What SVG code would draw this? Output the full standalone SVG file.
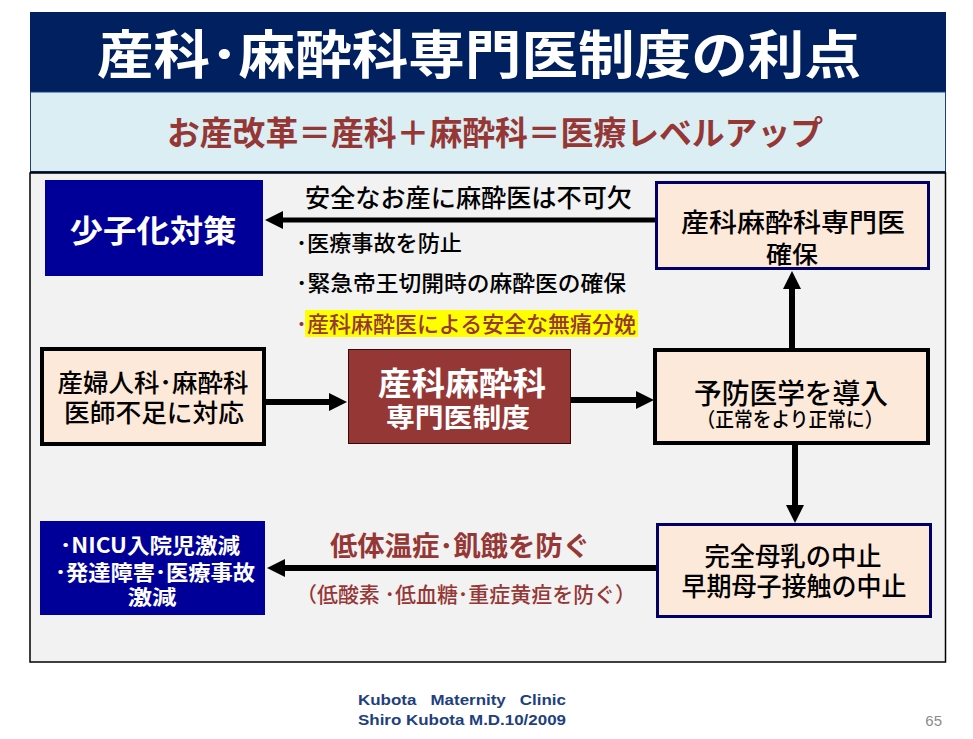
<svg xmlns="http://www.w3.org/2000/svg" width="973" height="739" viewBox="0 0 973 739">
<defs>
<style>
.jp{font-family:"Noto Sans CJK JP","Noto Sans CJK SC",sans-serif;font-weight:bold;}
.w{fill:#ffffff;}
.k{fill:#000000;}
.br{fill:#953735;}
.peach{fill:#FDE9D9;}
.conn{stroke:#000;fill:none;}
.ft{font-family:"Liberation Sans",Arial,sans-serif;font-weight:bold;fill:#1F3F7F;font-size:15px;}
</style>
<marker id="ah" markerUnits="userSpaceOnUse" viewBox="0 0 18 18" markerWidth="18" markerHeight="18" refX="2" refY="9" orient="auto">
<path d="M0,0 L18,9 L0,18 Z" fill="#000"/>
</marker>
</defs>
<rect width="973" height="739" fill="#ffffff"/>
<!-- header -->
<rect x="30" y="12" width="916" height="80" fill="#002060"/>
<text class="jp w" x="97" y="74" font-size="52" textLength="764" lengthAdjust="spacingAndGlyphs">産科･麻酔科専門医制度の利点</text>
<rect x="30.5" y="92" width="915" height="80" fill="#DBEEF4" stroke="#1F3F7F" stroke-width="1"/>
<line x1="30" y1="172" x2="946" y2="172" stroke="#002060" stroke-width="2"/>
<text class="jp br" x="167" y="145" font-size="33" textLength="656" lengthAdjust="spacingAndGlyphs">お産改革＝産科＋麻酔科＝医療レベルアップ</text>
<!-- main panel -->
<rect x="30" y="173" width="915.5" height="489" fill="#F2F2F2" stroke="#000" stroke-width="1.5"/>
<!-- connectors -->
<g id="connectors">
<line class="conn" x1="655" y1="220" x2="281" y2="220" stroke-width="5" marker-end="url(#ah)"/>
<line class="conn" x1="266" y1="402" x2="331" y2="402" stroke-width="6" marker-end="url(#ah)"/>
<line class="conn" x1="571" y1="400" x2="638" y2="400" stroke-width="6" marker-end="url(#ah)"/>
<line class="conn" x1="792" y1="348" x2="792" y2="287" stroke-width="6" marker-end="url(#ah)"/>
<line class="conn" x1="795" y1="443" x2="795" y2="507" stroke-width="6" marker-end="url(#ah)"/>
<line class="conn" x1="656" y1="568" x2="283" y2="568" stroke-width="6" marker-end="url(#ah)"/>
<text class="jp k" x="305" y="207" font-size="25" font-weight="normal" textLength="327" lengthAdjust="spacingAndGlyphs" style="font-weight:500">安全なお産に麻酔医は不可欠</text>
<text class="jp k" x="296" y="251" font-size="22" textLength="166" lengthAdjust="spacingAndGlyphs" style="font-weight:500">･医療事故を防止</text>
<text class="jp k" x="296" y="291" font-size="22" textLength="330" lengthAdjust="spacingAndGlyphs" style="font-weight:500">･緊急帝王切開時の麻酔医の確保</text>
<rect x="305" y="310" width="333" height="27" fill="#FFFF00"/>
<text class="jp br" x="296" y="332" font-size="22" textLength="340" lengthAdjust="spacingAndGlyphs" style="font-weight:500">･産科麻酔医による安全な無痛分娩</text>
<text class="jp br" x="330" y="556" font-size="27" textLength="260" lengthAdjust="spacingAndGlyphs">低体温症･飢餓を防ぐ</text>
<text class="jp br" x="296" y="602" font-size="21" textLength="340" lengthAdjust="spacingAndGlyphs" style="font-weight:500">（低酸素 ･低血糖･重症黄疸を防ぐ）</text>
</g>
<!-- nodes -->
<g id="shoshika">
<rect x="45" y="180" width="218" height="96" fill="#000099"/>
<text class="jp w" x="153" y="242" font-size="31" text-anchor="middle" textLength="167" lengthAdjust="spacingAndGlyphs">少子化対策</text>
</g>
<g id="kakuho">
<rect x="656.5" y="182.5" width="272" height="86" class="peach" stroke="#000066" stroke-width="3"/>
<text class="jp k" x="793" y="232" font-size="26" text-anchor="middle" textLength="224" lengthAdjust="spacingAndGlyphs" style="font-weight:500">産科麻酔科専門医</text>
<text class="jp k" x="792" y="263" font-size="24" text-anchor="middle" textLength="52" lengthAdjust="spacingAndGlyphs" style="font-weight:500">確保</text>
</g>
<g id="ishibusoku">
<rect x="42" y="349" width="222" height="95" class="peach" stroke="#000" stroke-width="4"/>
<text class="jp k" x="153" y="392" font-size="25" text-anchor="middle" textLength="191" lengthAdjust="spacingAndGlyphs" style="font-weight:500">産婦人科･麻酔科</text>
<text class="jp k" x="154" y="422" font-size="25" text-anchor="middle" textLength="180" lengthAdjust="spacingAndGlyphs" style="font-weight:500">医師不足に対応</text>
</g>
<g id="seido">
<rect x="348.5" y="349.5" width="222" height="94" fill="#953735" stroke="#3a0a0a" stroke-width="1"/>
<text class="jp w" x="462" y="395" font-size="32" text-anchor="middle" textLength="168" lengthAdjust="spacingAndGlyphs">産科麻酔科</text>
<text class="jp w" x="458" y="427" font-size="26" text-anchor="middle" textLength="144" lengthAdjust="spacingAndGlyphs">専門医制度</text>
</g>
<g id="yobou">
<rect x="655" y="350" width="273" height="93" class="peach" stroke="#000" stroke-width="4"/>
<text class="jp k" x="791" y="404" font-size="28" text-anchor="middle" textLength="194" lengthAdjust="spacingAndGlyphs" style="font-weight:500">予防医学を導入</text>
<text class="jp k" x="790" y="427" font-size="20" text-anchor="middle" textLength="187" lengthAdjust="spacingAndGlyphs" style="font-weight:500">（正常をより正常に）</text>
</g>
<g id="bonyu">
<rect x="657.5" y="524.5" width="273" height="92" class="peach" stroke="#000066" stroke-width="3"/>
<text class="jp k" x="793" y="566" font-size="26" text-anchor="middle" textLength="177" lengthAdjust="spacingAndGlyphs" style="font-weight:500">完全母乳の中止</text>
<text class="jp k" x="794" y="596" font-size="26" text-anchor="middle" textLength="225" lengthAdjust="spacingAndGlyphs" style="font-weight:500">早期母子接触の中止</text>
</g>
<g id="nicu">
<rect x="40" y="521" width="225" height="94" fill="#000099"/>
<text class="jp w" x="150" y="553" font-size="21" text-anchor="middle" textLength="180" lengthAdjust="spacingAndGlyphs">･NICU入院児激減</text>
<text class="jp w" x="155" y="580" font-size="21" text-anchor="middle" textLength="200" lengthAdjust="spacingAndGlyphs">･発達障害･医療事故</text>
<text class="jp w" x="152" y="605" font-size="20" text-anchor="middle" textLength="49" lengthAdjust="spacingAndGlyphs">激減</text>
</g>
<!-- footer -->
<text class="ft" x="358" y="705" textLength="208" lengthAdjust="spacingAndGlyphs" xml:space="preserve">Kubota   Maternity   Clinic</text>
<text class="ft" x="358" y="725" textLength="208" lengthAdjust="spacingAndGlyphs">Shiro Kubota M.D.10/2009</text>
<text x="942" y="726" text-anchor="end" font-family="Liberation Sans Narrow,Liberation Sans,sans-serif" font-size="15" fill="#8C8C8C">65</text>
</svg>
